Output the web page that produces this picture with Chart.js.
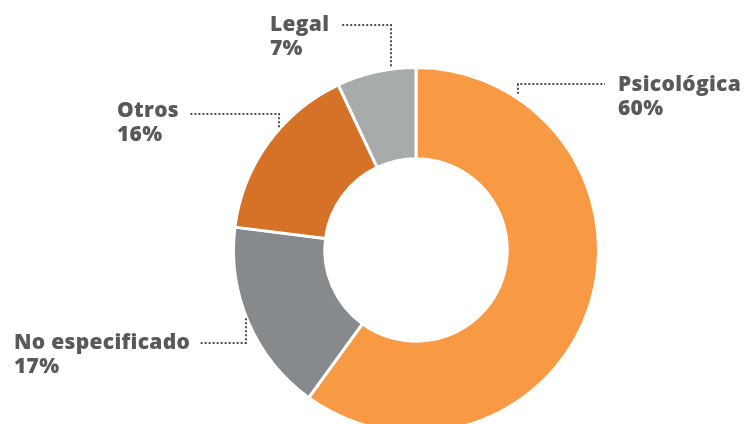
<!DOCTYPE html>
<html><head><meta charset="utf-8">
<script src="https://cdn.jsdelivr.net/npm/chart.js@4/dist/chart.umd.min.js"></script>
<style>html,body{margin:0;padding:0;overflow:hidden;background:#fff;width:745px;height:424px}canvas{display:block}</style>
</head><body>
<canvas id="c" width="745" height="500"></canvas>
<script>
const categories = ['Psicológica', 'No especificado', 'Otros', 'Legal'];
const values = [60, 17, 16, 7];
const valueLabels = ['60%', '17%', '16%', '7%'];
const colors = ['#F79A43', '#878A8C', '#D57228', '#A8ABAB'];

// annotation layout (leader lines + text), per slice
const labelLayout = [
  {frac: 0.153, gap: 4, elbowY: 84, lineEndX: 605, textX: 618, textY: 91},
  {frac: 0.525, gap: 1, elbowY: 343, lineEndX: 200, textX: 14, textY: 349},
  {frac: 0.603, gap: 1, elbowY: 114, lineEndX: 190, textX: 117, textY: 117},
  {frac: 0.69, gap: 3, elbowY: 25, lineEndX: 342, textX: 270, textY: 31}
];

const leaderPlugin = {
  id: 'leaders',
  afterDraw(chart) {
    const ctx = chart.ctx;
    const meta = chart.getDatasetMeta(0);
    ctx.save();
    meta.data.forEach((arc, i) => {
      const p = arc.getProps(['x', 'y', 'startAngle', 'endAngle', 'outerRadius'], true);
      const L = labelLayout[i];
      const a = p.startAngle + L.frac * (p.endAngle - p.startAngle);
      const r = p.outerRadius + L.gap;
      const px = Math.round(p.x + r * Math.cos(a));
      const py = p.y + r * Math.sin(a);
      ctx.beginPath();
      ctx.setLineDash([2, 2]);
      ctx.lineWidth = 2;
      ctx.strokeStyle = '#4e4f51';
      ctx.moveTo(px, py);
      ctx.lineTo(px, L.elbowY);
      ctx.lineTo(L.lineEndX, L.elbowY);
      ctx.stroke();
      ctx.setLineDash([]);
      ctx.fillStyle = '#58595B';
      ctx.font = '800 21px "Open Sans"';
      ctx.letterSpacing = '0.3px';
      ctx.textAlign = 'left';
      ctx.textBaseline = 'alphabetic';
      ctx.fillText(categories[i], L.textX, L.textY);
      ctx.fillText(valueLabels[i], L.textX, L.textY + 24);
    });
    ctx.restore();
  }
};

new Chart(document.getElementById('c'), {
  type: 'doughnut',
  data: {
    labels: categories,
    datasets: [{
      data: values,
      backgroundColor: colors,
      borderColor: '#ffffff',
      borderWidth: 3
    }]
  },
  options: {
    responsive: false,
    animation: false,
    devicePixelRatio: 1,
    events: [],
    cutout: '50%',
    layout: {padding: {left: 232, right: 145, top: 66, bottom: 66}},
    plugins: {legend: {display: false}, tooltip: {enabled: false}}
  },
  plugins: [leaderPlugin]
});
</script>
</body></html>
